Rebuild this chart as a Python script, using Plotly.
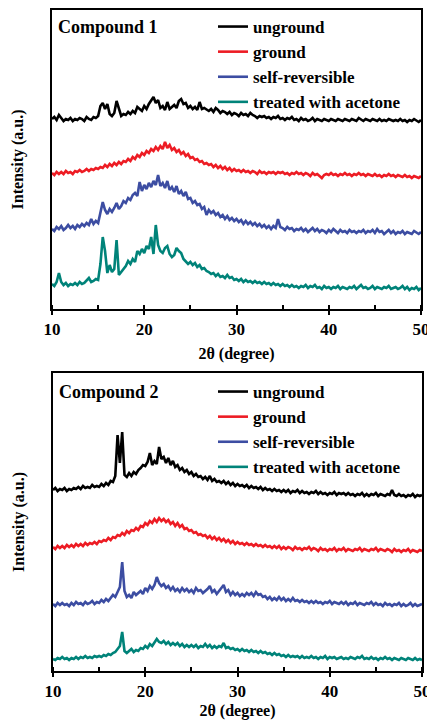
import numpy as np
import plotly.graph_objects as go

# 2-theta grid (degrees), 0.25 step from 10 to 50
two_theta = np.round(np.arange(10.0, 50.0001, 0.25), 2)

series_names = ["unground", "ground", "self-reversible", "treated with acetone"]
series_colors = ["#000000", "#ED1C24", "#3C4DA2", "#008379"]
panel_titles = ["Compound 1", "Compound 2"]
x_ticks = [10, 20, 30, 40, 50]

# ---- Compound 1 (offset intensities, a.u.) ----
c1_unground = [190,192,189,194,191,188,190,189,191,188,190,189,191,190,188,192,190,189,192,191,
               193,203,206,200,205,195,193,196,208,199,193,195,194,197,195,198,196,202,200,198,
               203,200,205,208,212,206,209,201,203,199,207,200,202,204,201,208,210,205,206,201,
               203,200,202,199,207,200,201,199,198,200,197,201,199,196,198,197,195,197,194,196,
               195,193,196,194,195,193,196,194,193,191,193,192,193,191,192,190,192,191,193,190,
               191,189,191,190,192,189,190,188,191,189,190,188,189,191,188,190,189,188,190,189,
               188,190,189,188,190,189,188,190,189,188,190,189,188,191,189,188,190,189,188,190,
               189,188,190,188,189,188,190,189,188,189,188,190,188,189,187,189,188,190,188,187,
               189]
c1_ground = [136,134,137,135,137,135,138,136,137,135,138,137,139,137,138,140,138,140,139,141,
             140,142,141,144,142,145,143,146,144,147,145,148,147,150,148,152,150,154,152,156,
             154,158,156,160,158,162,159,163,160,167,161,164,159,161,157,159,155,157,153,155,
             151,152,149,150,147,148,145,146,144,145,142,144,141,143,140,142,139,141,138,140,
             138,139,137,139,137,138,136,138,137,135,138,136,137,135,137,136,137,135,137,136,
             137,135,136,134,136,135,137,135,136,134,136,135,133,136,134,135,133,131,134,135,
             134,136,134,135,133,135,134,136,134,135,133,135,134,136,134,135,133,135,134,133,
             135,133,134,132,134,133,135,133,134,132,134,133,132,134,132,133,131,133,132,131,
             133]
c1_self_rev = [80,78,82,80,83,79,81,84,81,83,80,84,82,85,83,86,84,90,85,88,
               86,96,107,99,95,100,97,101,106,100,103,108,106,111,109,114,116,113,127,118,
               124,120,126,122,128,124,134,123,126,121,128,119,122,117,123,115,118,113,117,110,
               111,106,108,104,105,100,102,94,99,96,98,94,96,92,94,90,93,89,91,88,
               90,87,89,85,88,85,87,84,86,83,85,82,84,81,83,80,83,81,90,82,
               81,79,82,80,81,78,80,79,81,78,80,77,79,81,78,80,77,79,78,76,
               79,77,80,78,76,79,77,78,76,79,77,78,76,78,77,79,76,78,77,79,
               76,80,77,78,75,77,79,76,78,75,77,76,78,75,77,76,75,78,76,75,
               77]
c1_acetone = [25,23,27,36,27,24,26,23,25,24,26,24,27,25,26,28,31,27,28,30,
              29,45,72,58,36,44,37,40,69,34,37,40,43,48,45,50,47,58,55,60,
              56,63,60,72,55,84,64,58,56,61,63,55,52,54,61,58,56,50,48,45,
              47,44,46,42,44,40,41,38,37,35,36,33,35,32,33,31,34,31,32,29,
              30,28,30,27,29,27,28,26,28,26,27,25,27,25,26,24,26,24,25,23,
              25,23,24,22,24,22,23,21,23,22,24,21,23,22,24,21,22,20,23,21,
              22,20,22,21,23,20,22,21,20,22,21,23,20,22,24,21,22,20,21,23,
              20,22,21,20,22,21,23,20,21,22,20,21,23,20,22,19,21,20,22,19,
              21]

# ---- Compound 2 (offset intensities, a.u.) ----
c2_unground = [181,183,180,182,181,183,180,182,181,183,182,184,182,185,183,184,183,186,184,185,
               184,187,185,188,186,190,189,195,236,208,239,196,194,198,195,199,197,201,203,206,
               205,209,218,206,210,207,224,212,214,208,213,206,210,204,206,201,203,199,201,197,
               199,195,197,194,195,192,194,191,195,190,192,189,190,188,190,187,189,186,188,185,
               187,185,186,184,186,183,185,183,184,182,184,181,183,181,182,180,182,180,181,179,
               181,179,181,178,180,179,181,178,180,178,179,177,179,178,180,177,179,177,178,176,
               178,177,179,176,178,177,178,176,178,176,177,175,177,176,178,175,177,175,177,176,
               178,175,177,176,175,177,176,181,176,175,177,175,176,174,176,175,177,174,176,175,
               176]
c2_ground = [124,122,125,123,125,123,126,124,126,124,127,125,127,125,128,126,128,127,129,127,
             130,129,131,130,133,131,134,133,136,135,138,136,140,138,141,140,143,141,145,144,
             148,146,150,148,152,149,153,150,152,149,151,147,149,145,148,144,146,142,143,140,
             141,138,139,136,137,135,136,133,135,132,134,131,133,130,132,129,131,128,130,127,
             129,127,128,126,128,126,127,125,127,125,126,124,126,124,125,123,125,123,125,122,
             124,122,124,123,121,124,122,123,121,123,122,124,121,123,122,120,123,121,122,120,
             122,121,123,120,122,121,123,120,122,121,120,122,121,123,120,122,121,120,122,121,
             123,120,122,121,120,122,121,119,122,120,121,119,121,120,122,119,121,120,119,121,
             120]
c2_self_rev = [67,65,68,66,68,66,67,65,68,66,69,67,68,66,69,67,68,70,67,69,
               68,71,69,72,70,73,76,74,80,84,109,80,74,76,73,79,76,78,80,77,
               83,80,85,82,86,94,88,85,87,83,85,81,84,80,82,79,83,80,82,79,
               81,78,83,80,81,78,80,82,85,79,81,77,80,83,86,79,81,76,79,76,
               78,75,77,75,78,76,78,75,79,76,77,74,75,72,74,71,73,71,74,71,
               73,70,72,70,73,70,71,69,71,69,70,68,70,68,70,68,69,67,69,68,
               70,67,69,68,67,69,67,69,66,68,67,69,66,68,67,66,68,67,69,66,
               68,66,67,65,68,66,67,65,67,66,68,65,67,65,66,68,65,67,65,66,
               67]
c2_acetone = [12,11,13,12,14,12,13,11,13,12,14,12,14,13,15,13,14,13,15,14,
              15,14,16,15,17,16,18,19,22,25,39,20,18,20,22,19,21,20,23,22,
              25,23,27,25,28,32,29,28,30,27,29,26,28,26,28,25,27,24,26,24,
              26,24,26,23,25,24,27,24,26,23,25,23,25,24,28,23,24,22,23,21,
              22,20,22,20,21,19,21,19,20,18,20,18,19,17,18,16,18,16,17,15,
              16,14,16,14,15,14,15,13,15,13,14,13,15,13,14,12,14,13,15,12,
              14,13,14,12,13,14,12,13,12,14,13,12,14,13,15,12,13,12,14,12,
              13,11,13,12,14,12,13,11,13,12,11,13,12,11,13,12,11,13,11,12,
              11]

panels = [
    [c1_unground, c1_ground, c1_self_rev, c1_acetone],
    [c2_unground, c2_ground, c2_self_rev, c2_acetone],
]

W, H = 427, 720
FONT = "Times New Roman, Liberation Serif, serif"

fig = go.Figure()
for p, curves in enumerate(panels):
    xa = "x" if p == 0 else "x2"
    ya = "y" if p == 0 else "y2"
    lg = "legend" if p == 0 else "legend2"
    for name, color, vals in zip(series_names, series_colors, curves):
        fig.add_trace(go.Scatter(
            x=two_theta, y=vals, mode="lines", name="<b>" + name + "</b>",
            line=dict(color=color, width=2.6), xaxis=xa, yaxis=ya,
            legend=lg, showlegend=True,
        ))

def px_x(v):
    return v / W

def px_y(v):
    return 1 - v / H

axis_font = dict(family=FONT, size=17, color="black")
title_font = dict(family=FONT, size=16, color="black")

def xaxis_cfg(domain, anchor):
    return dict(
        domain=domain, anchor=anchor, range=[10, 50], automargin=False,
        tickvals=x_ticks, ticktext=["<b>%d</b>" % t for t in x_ticks],
        ticks="outside", ticklen=4, tickwidth=1.5, tickcolor="black",
        minor=dict(ticks="inside", ticklen=4, dtick=5, tickwidth=1.5, tickcolor="black"),
        showline=True, linecolor="black", linewidth=2, mirror=True,
        showgrid=False, zeroline=False,
        tickfont=axis_font, ticklabeloverflow="allow",
        title=dict(text="<b>2θ (degree)</b>", font=title_font, standoff=9),
    )

def yaxis_cfg(domain, anchor, top):
    return dict(
        domain=domain, anchor=anchor, range=[0, top], automargin=False,
        showticklabels=False, ticks="",
        showline=True, linecolor="black", linewidth=2, mirror=True,
        showgrid=False, zeroline=False,
        title=dict(text="<b>Intensity (a.u.)</b>", font=title_font, standoff=22),
    )

legend_common = dict(
    font=dict(family=FONT, size=17, color="black"),
    bgcolor="rgba(0,0,0,0)", borderwidth=0,
    xanchor="left", yanchor="top", itemwidth=30,
    tracegroupgap=0, itemclick=False,
)

fig.update_layout(
    width=W, height=H,
    margin=dict(l=0, r=0, t=0, b=0, autoexpand=False),
    paper_bgcolor="white", plot_bgcolor="white",
    xaxis=xaxis_cfg([px_x(52), px_x(421)], "y"),
    yaxis=yaxis_cfg([px_y(309), px_y(10)], "x", 299),
    xaxis2=xaxis_cfg([px_x(53), px_x(422)], "y2"),
    yaxis2=yaxis_cfg([px_y(671), px_y(373)], "x2", 298),
    legend=dict(x=px_x(213), y=px_y(9), **legend_common),
    legend2=dict(x=px_x(213), y=px_y(374), **legend_common),
    annotations=[
        dict(text="<b>" + panel_titles[0] + "</b>", x=px_x(56), y=px_y(27),
             xref="paper", yref="paper", xanchor="left", yanchor="middle",
             showarrow=False, font=dict(family=FONT, size=18, color="black")),
        dict(text="<b>" + panel_titles[1] + "</b>", x=px_x(57), y=px_y(392),
             xref="paper", yref="paper", xanchor="left", yanchor="middle",
             showarrow=False, font=dict(family=FONT, size=18, color="black")),
    ],
)

fig.write_html("out.html")
